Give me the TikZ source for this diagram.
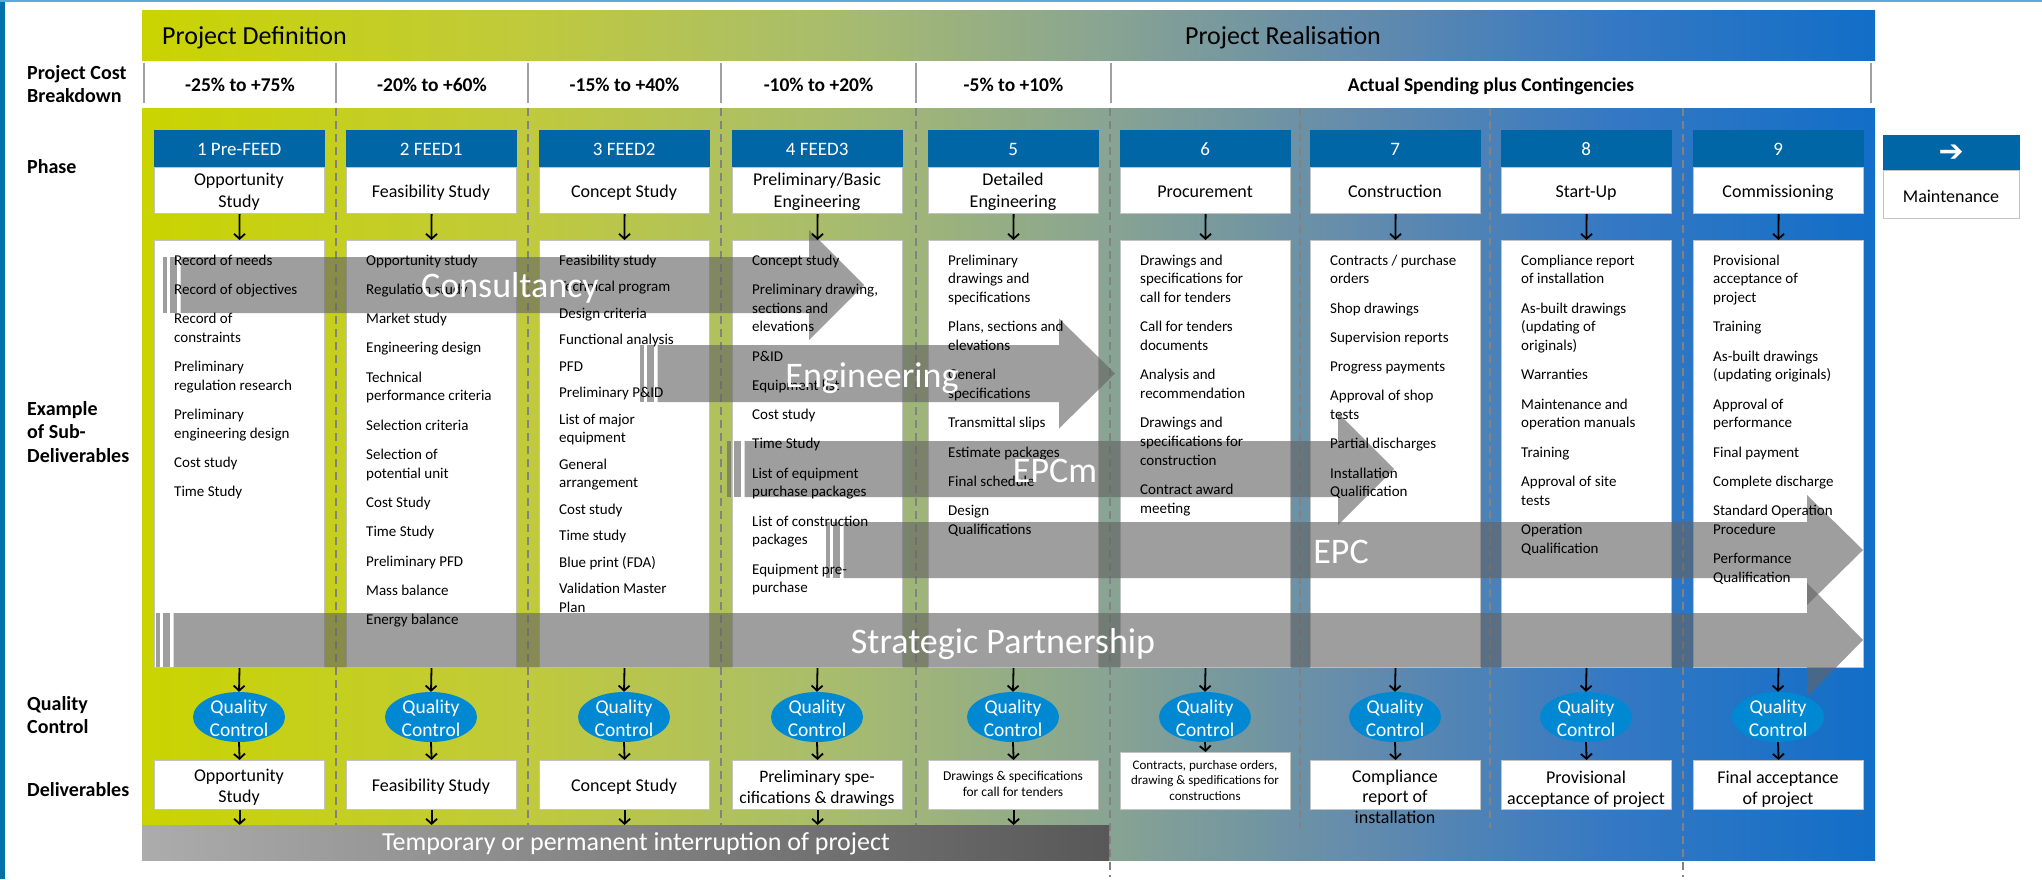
\documentclass[tikz,border=0pt]{standalone}
\usepackage{fontspec}
\setmainfont{Carlito}
\newfontfamily\djvfont{DejaVu Sans}
\usetikzlibrary{arrows.meta,shapes.geometric}

\definecolor{phblue}{RGB}{0,102,166}
\definecolor{qcblue}{RGB}{0,137,210}
\definecolor{edgeblue}{RGB}{0,112,170}
\definecolor{topblue}{RGB}{91,170,222}
\definecolor{arrgray}{RGB}{100,100,100}
\definecolor{dashgray}{RGB}{130,130,130}
\definecolor{sepgray}{RGB}{160,160,160}
\definecolor{boxedge}{RGB}{195,195,195}
\definecolor{gA}{RGB}{202,212,0}
\definecolor{gB}{RGB}{192,202,60}
\definecolor{gC}{RGB}{168,188,110}
\definecolor{gD}{RGB}{138,165,145}
\definecolor{gE}{RGB}{100,140,172}
\definecolor{gF}{RGB}{52,120,195}
\definecolor{gG}{RGB}{18,110,200}
\definecolor{barL}{RGB}{172,172,172}
\definecolor{barR}{RGB}{88,88,88}

\pgfdeclarehorizontalshading{panelgrad}{100bp}{color(0bp)=(gA); color(25bp)=(gA); color(36bp)=(gB); color(45bp)=(gC); color(52.5bp)=(gD); color(60bp)=(gE); color(67.5bp)=(gF); color(75bp)=(gG); color(100bp)=(gG)}

\newcommand{\setfs}[2]{\fontsize{#1}{#2}\selectfont}
\newcommand{\ctab}[1]{\begin{tabular}[t]{@{}c@{}}#1\end{tabular}}
\newcommand{\ltab}[1]{\begin{tabular}[t]{@{}l@{}}#1\end{tabular}}
\newcommand{\nx}{\\[10.6pt]}
\newcommand{\nz}{\\[7.8pt]}

\newcommand{\grayarrow}[6]{%
  \pgfmathsetmacro{\gamid}{(#2+#3)/2}
  \fill[arrfill] (#1,#2) rectangle (#1+3.5,#3);
  \fill[arrfill] (#1+7,#2) rectangle (#1+14,#3);
  \fill[arrfill] (#1+17.5,#2) -- (#4,#2) -- (#4,\gamid-#6) -- (#5,\gamid) -- (#4,\gamid+#6) -- (#4,#3) -- (#1+17.5,#3) -- cycle;
}

\begin{document}
\begin{tikzpicture}[x=1pt,y=-1pt,
  phbox/.style={draw=phblue, fill=phblue, minimum width=170, minimum height=37, inner sep=0, anchor=north west},
  whbox/.style={draw=boxedge, line width=1.2pt, fill=white, minimum width=170, inner sep=0, anchor=north west},
  subbox/.style={draw=boxedge, line width=1pt, fill=white, minimum width=170, minimum height=427, inner sep=0, anchor=north west},
  qcell/.style={ellipse, fill=qcblue, minimum width=92, minimum height=50, inner sep=0},
  txt/.style={anchor=base, inner sep=0, text=black},
  ltxt/.style={anchor=base west, inner sep=0, text=black},
  blk/.style={draw=black, line width=1.8pt, -{Straight Barb[length=5pt,width=11pt]}},
  arrfill/.style={fill=arrgray, fill opacity=0.62},
  dashln/.style={draw=dashgray, line width=1.5pt, dash pattern=on 8pt off 5pt},
  sepln/.style={draw=sepgray, line width=2pt},
  albl/.style={anchor=base, inner sep=0, text=white, font=\setfs{36}{40}},
  lbl/.style={anchor=base west, inner sep=0, text=black, font=\bfseries\setfs{20}{23}},
  sub/.style={anchor=base west, inner sep=0, text=black, font=\setfs{15}{18.7}}
]
\useasboundingbox (0,0) rectangle (2042,879);
\fill[white] (0,0) rectangle (2042,879);
\fill[edgeblue] (0,0) rectangle (5,879);
\fill[topblue] (0,0) rectangle (2042,1.5);

% header band
\shade[shading=panelgrad] (142,10) rectangle (1875,60);
\node[ltxt, font=\setfs{26}{30}] (hdA) at (162,44) {Project Definition};
\node[txt, font=\setfs{26}{30}] (hdB) at (1283,44) {Project Realisation};

% cost row
\foreach \x in {144,336,528,721,916,1111,1871} \draw[sepln] (\x,63) -- (\x,103);
\foreach \i/\x/\t in {1/240/-25\% to +75\%,2/432/-20\% to +60\%,3/624.5/-15\% to +40\%,4/818.5/-10\% to +20\%,5/1013.5/-5\% to +10\%,6/1491/Actual Spending plus Contingencies}
  \node[txt, font=\bfseries\setfs{19.5}{23}] (cost\i) at (\x,91) {\t};

% body panel
\shade[shading=panelgrad] (142,108) rectangle (1875,860);
\foreach \x in {336,528,721,916,1300,1490} \draw[dashln] (\x,108) -- (\x,828);
\foreach \x in {1110,1683} \draw[dashln] (\x,108) -- (\x,877);

% phase boxes and sub-deliverable boxes
\foreach \i/\L in {1/154,2/346,3/539,4/732,5/928,6/1120,7/1310,8/1501,9/1693} {
  \node[phbox] (ph\i) at (\L,130) {};
  \node[whbox, minimum height=46] (pw\i) at (\L,167) {};
  \node[subbox] (sb\i) at (\L,240) {};
}
\foreach \i/\t in {1/1 Pre-FEED,2/2 FEED1,3/3 FEED2,4/4 FEED3,5/5,6/6,7/7,8/8,9/9}
  \node[txt, text=white, font=\setfs{19}{22}] (phl\i) at ([yshift=-6.5pt]ph\i.center) {\t};

\node[txt, font=\setfs{18}{22}] (pwt1) at (239,185) {\ctab{Opportunity\\Study}};
\node[txt, font=\setfs{18}{22}] (pwt2) at (431,197) {Feasibility Study};
\node[txt, font=\setfs{18}{22}] (pwt3) at (624,197) {Concept Study};
\node[txt, font=\setfs{18}{22}] (pwt4) at (817,185) {\ctab{Preliminary/Basic\\Engineering}};
\node[txt, font=\setfs{18}{22}] (pwt5) at (1013,185) {\ctab{Detailed\\Engineering}};
\node[txt, font=\setfs{18}{22}] (pwt6) at (1205,197) {Procurement};
\node[txt, font=\setfs{18}{22}] (pwt7) at (1395,197) {Construction};
\node[txt, font=\setfs{18}{22}] (pwt8) at (1586,197) {Start-Up};
\node[txt, font=\setfs{18}{22}] (pwt9) at (1778,197) {Commissioning};

% gray block arrows
\grayarrow{163}{257}{313}{809}{864}{55}
\grayarrow{640}{345}{402}{1059}{1115}{55}
\grayarrow{727}{441}{497}{1338}{1394}{56}
\grayarrow{826}{522}{578}{1807}{1863}{55}
\grayarrow{156}{613}{667}{1807}{1863}{57}

% sub-deliverable lists
\node[sub] (st1) at (174,265) {\ltab{Record of needs\nx Record of objectives\nx Record of\\constraints\nx Preliminary\\regulation research\nx Preliminary\\engineering design\nx Cost study\nx Time Study}};
\node[sub] (st2) at (366,265) {\ltab{Opportunity study\nx Regulation study\nx Market study\nx Engineering design\nx Technical\\performance criteria\nx Selection criteria\nx Selection of\\potential unit\nx Cost Study\nx Time Study\nx Preliminary PFD\nx Mass balance\nx Energy balance}};
\node[sub] (st3) at (559,265) {\ltab{Feasibility study\nz Technical program\nz Design criteria\nz Functional analysis\nz PFD\nz Preliminary P\&ID\nz List of major\\equipment\nz General\\arrangement\nz Cost study\nz Time study\nz Blue print (FDA)\nz Validation Master\\Plan}};
\node[sub] (st4) at (752,265) {\ltab{Concept study\nx Preliminary drawing,\\sections and\\elevations\nx P\&ID\nx Equipment list\nx Cost study\nx Time Study\nx List of equipment\\purchase packages\nx List of construction\\packages\nx Equipment pre-\\purchase}};
\node[sub] (st5) at (948,265) {\ltab{Preliminary\\drawings and\\specifications\nx Plans, sections and\\elevations\nx General\\specifications\nx Transmittal slips\nx Estimate packages\nx Final schedule\nx Design\\Qualifications}};
\node[sub] (st6) at (1140,265) {\ltab{Drawings and\\specifications for\\call for tenders\nx Call for tenders\\documents\nx Analysis and\\recommendation\nx Drawings and\\specifications for\\construction\nx Contract award\\meeting}};
\node[sub] (st7) at (1330,265) {\ltab{Contracts / purchase\\orders\nx Shop drawings\nx Supervision reports\nx Progress payments\nx Approval of shop\\tests\nx Partial discharges\nx Installation\\Qualification}};
\node[sub] (st8) at (1521,265) {\ltab{Compliance report\\of installation\nx As-built drawings\\(updating of\\originals)\nx Warranties\nx Maintenance and\\operation manuals\nx Training\nx Approval of site\\tests\nx Operation\\Qualification}};
\node[sub] (st9) at (1713,265) {\ltab{Provisional\\acceptance of\\project\nx Training\nx As-built drawings\\(updating originals)\nx Approval of\\performance\nx Final payment\nx Complete discharge\nx Standard Operation\\Procedure\nx Performance\\Qualification}};

% arrow labels
\node[albl] (lConsult) at (510,297) {Consultancy};
\node[albl] (lEng) at (872,387) {Engineering};
\node[albl] (lEPCm) at (1055,482) {EPCm};
\node[albl] (lEPC) at (1341,563) {EPC};
\node[albl] (lSP) at (1003,653) {Strategic Partnership};

% quality control and deliverables
\foreach \i/\L in {1/154,2/346,3/539,4/732,5/928,7/1310,8/1501,9/1693}
  \node[whbox, minimum height=49] (dv\i) at (\L,760) {};
\node[whbox, minimum height=57] (dv6) at (1120,752) {};

\foreach \i/\c in {1/239,2/431,3/624,4/817,5/1013,6/1205,7/1395,8/1586,9/1778} {
  \node[qcell] (qc\i) at (\c,717) {};
  \node[txt, text=white, font=\setfs{19.5}{23.5}] (qct\i) at (\c,713) {\ctab{Quality\\Control}};
  \draw[blk] (pw\i.south) -- (sb\i.north);
  \draw[blk] (sb\i.south) -- (qc\i.north);
  \draw[blk] (qc\i.south) -- (dv\i.north);
}

\node[txt, font=\setfs{18}{21}] (dvt1) at (239,781) {\ctab{Opportunity\\Study}};
\node[txt, font=\setfs{18}{21}] (dvt2) at (431,791) {Feasibility Study};
\node[txt, font=\setfs{18}{21}] (dvt3) at (624,791) {Concept Study};
\node[txt, font=\setfs{17.5}{21}] (dvt4) at (817,782) {\ctab{Preliminary spe-\\cifications \& drawings}};
\node[txt, font=\setfs{13.5}{16}] (dvt5) at (1013,780) {\ctab{Drawings \& specifications\\for call for tenders}};
\node[txt, font=\setfs{13}{15.5}] (dvt6) at (1205,769) {\ctab{Contracts, purchase orders,\\drawing \& spedifications for\\constructions}};
\node[txt, font=\setfs{18}{20.5}] (dvt7) at (1395,782) {\ctab{Compliance\\report of\\installation}};
\node[txt, font=\setfs{18}{21}] (dvt8) at (1586,783) {\ctab{Provisional\\acceptance of project}};
\node[txt, font=\setfs{18}{21}] (dvt9) at (1778,783) {\ctab{Final acceptance\\of project}};

% interruption bar
\node[anchor=north west, minimum width=967, minimum height=35, inner sep=0, left color=barL, right color=barR, draw=none] (bar) at (142,825) {};
\node[txt, text=white, font=\setfs{26}{30}] (bartxt) at (636,850) {Temporary or permanent interruption of project};
\foreach \i in {1,...,5}
  \draw[blk] (dv\i.south) -- (dv\i.south |- bar.north);

% maintenance
\node[phbox, minimum width=136, minimum height=35] (mtb) at (1883,135) {};
\node[whbox, minimum width=136, minimum height=48] (mtw) at (1883,170) {};
\node[text=white, inner sep=0, font=\djvfont\bfseries\setfs{30}{34}] (mta) at ([yshift=-1pt]mtb.center) {➔};
\node[txt, font=\setfs{18}{22}] (mtt) at (1951,202) {Maintenance};

% left labels
\node[lbl] (lb1) at (27,79) {\ltab{Project Cost\\Breakdown}};
\node[lbl] (lb2) at (27,173) {Phase};
\node[lbl, font=\bfseries\setfs{20}{23.5}] (lb3) at (27,415) {\ltab{Example\\of Sub-\\Deliverables}};
\node[lbl] (lb4) at (27,710) {\ltab{Quality\\Control}};
\node[lbl] (lb5) at (27,796) {Deliverables};
\end{tikzpicture}
\end{document}
